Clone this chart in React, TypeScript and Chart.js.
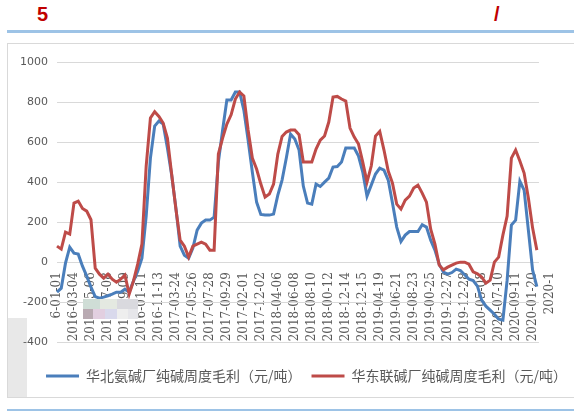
import React, { useEffect, useRef } from 'react';
import { Chart, registerables } from 'chart.js';

Chart.register(...registerables);

// Tick labels shown on the category axis (one every 4 data points)
const tickLabels = [
  '6-01-01', '2016-03-04', '2016-05-06', '2016-07-08', '2016-09-09', '2016-01-11',
  '2016-11-13', '2017-03-24', '2017-05-26', '2017-07-28', '2017-09-29', '2017-02-01',
  '2017-12-02', '2018-04-06', '2018-06-08', '2018-08-10', '2018-00-12', '2018-12-14',
  '2018-12-15', '2019-04-19', '2019-06-21', '2019-08-23', '2019-00-25', '2019-12-27',
  '2019-12-28', '2020-05-08', '2020-07-10', '2020-09-11', '2020-01-20', '2020-1',
];

const seriesNames = ['华北氨碱厂纯碱周度毛利（元/吨）', '华东联碱厂纯碱周度毛利（元/吨）'];

// 华北氨碱厂纯碱周度毛利（元/吨）
const northAmmoniaProfit = [
  -150, -130, -5, 75, 45, 40, -20, -70, -125, -172,
  -180, -175, -168, -160, -150, -150, -135, -150, -95, -45,
  20, 230, 520, 680, 705, 690, 570, 435, 270, 80,
  35, 20, 70, 160, 195, 210, 210, 225, 500, 660,
  810, 810, 850, 850, 760, 610, 450, 300, 238, 235,
  235, 240, 335, 410, 520, 640, 615, 560, 380, 295,
  290, 390, 378, 400, 420, 475, 478, 500, 570, 570,
  570, 530, 450, 330, 385, 440, 470, 460, 410, 295,
  175, 103, 135, 153, 153, 153, 187, 175, 110, 60,
  -10, -50, -60, -52, -35, -42, -63, -85, -92, -120,
  -190, -220, -240, -260, -285, -290, -90, 185, 210, 405,
  360, 160, -40, -122, null, null, null,
];

// 华东联碱厂纯碱周度毛利（元/吨）
const eastJointProfit = [
  80, 65, 150, 140, 295, 305, 268, 255, 212, -30,
  -60, -80, -60, -85, -100, -85, -65, -160, -95, -10,
  90, 480, 720, 752, 728, 695, 620, 440, 265, 110,
  80, 25, 80, 90, 100, 90, 60, 60, 540, 620,
  690, 736, 815, 850, 830, 660, 520, 465, 390, 325,
  340, 390, 540, 628, 650, 660, 660, 637, 500, 500,
  500, 565, 610, 630, 700, 825, 828, 815, 805, 670,
  625, 590, 500, 400, 480, 630, 653, 560, 455, 395,
  290, 265, 310, 330, 370, 385, 345, 300, 165, 90,
  -15, -38, -25, -15, -5, 0, 0, -10, -48, -58,
  -75, -105, -90, 0, 25, 135, 230, 520, 560, 505,
  445, 320, 170, 60, null, null, null,
];

const yTicks = { min: -400, max: 1000, step: 200 };
const gridEndIndex = 113.5;

const categories = northAmmoniaProfit.map((_, i) => (i % 4 === 0 ? tickLabels[i / 4] : ''));

const partialGrid = {
  id: 'partialGrid',
  beforeDatasetsDraw(chart: any) {
    const { ctx, chartArea, scales } = chart;
    const xEnd = scales.x.getPixelForValue(gridEndIndex);
    ctx.save();
    ctx.strokeStyle = '#d9d9d9';
    ctx.lineWidth = 1;
    scales.y.ticks.forEach((t: any) => {
      const py = Math.round(scales.y.getPixelForValue(t.value)) + 0.5;
      ctx.beginPath();
      ctx.moveTo(chartArea.left, py);
      ctx.lineTo(xEnd, py);
      ctx.stroke();
    });
    ctx.restore();
  },
};

const legendShift = {
  id: 'legendShift',
  afterLayout(chart: any) {
    if (chart.legend) {
      chart.legend.left += 7;
      chart.legend.right += 7;
    }
  },
};

export default function App() {
  const ref = useRef<HTMLCanvasElement>(null);

  useEffect(() => {
    if (!ref.current) return;
    const chart = new Chart(ref.current, {
      type: 'line',
      data: {
        labels: categories,
        datasets: [
          {
            label: seriesNames[0],
            data: northAmmoniaProfit,
            borderColor: '#4a7ebb',
            backgroundColor: '#4a7ebb',
            borderWidth: 3,
            pointRadius: 0,
            pointBorderWidth: 3,
            tension: 0,
            order: 1,
          },
          {
            label: seriesNames[1],
            data: eastJointProfit,
            borderColor: '#be4b48',
            backgroundColor: '#be4b48',
            borderWidth: 3,
            pointRadius: 0,
            pointBorderWidth: 3,
            tension: 0,
            order: 0,
          },
        ],
      },
      options: {
        animation: false,
        responsive: true,
        maintainAspectRatio: false,
        layout: { padding: { left: 0, right: 4, top: 18, bottom: 5 } },
        plugins: {
          tooltip: { enabled: false },
          legend: {
            position: 'bottom',
            align: 'end',
            title: { display: true, text: ' ', padding: 0, font: { size: 14 } },
            labels: {
              usePointStyle: true,
              pointStyle: 'line',
              pointStyleWidth: 33,
              padding: 10,
              color: '#595959',
              font: { family: "'Noto Sans CJK SC', sans-serif", size: 14 },
              sort: (a: any, b: any) => a.datasetIndex - b.datasetIndex,
            },
          },
        },
        scales: {
          x: {
            type: 'category',
            position: { y: 0 } as any,
            grid: { display: false, drawTicks: false },
            border: { display: false },
            ticks: {
              autoSkip: false,
              minRotation: 90,
              maxRotation: 90,
              padding: 10,
              color: '#595959',
              font: { family: "'DejaVu Serif', serif", size: 12 },
            },
          },
          y: {
            min: yTicks.min,
            max: yTicks.max,
            grid: { display: false, drawTicks: false },
            border: { display: false },
            afterFit: (scale: any) => {
              scale.width = 49;
            },
            ticks: {
              stepSize: yTicks.step,
              padding: 9,
              color: '#595959',
              font: { family: "'DejaVu Sans', sans-serif", size: 11 },
              callback: (v: any) => String(v),
            },
          },
        },
      },
      plugins: [partialGrid, legendShift],
    });
    return () => chart.destroy();
  }, []);

  const mosaic = [
    { l: 83, t: 299, w: 17, h: 10, c: '#cfddd6' },
    { l: 100, t: 299, w: 17, h: 10, c: '#e4e9e1' },
    { l: 117, t: 299, w: 21, h: 10, c: '#d9d9de' },
    { l: 83, t: 309, w: 10, h: 10, c: '#b9aab2' },
    { l: 93, t: 309, w: 12, h: 10, c: '#e2cfe0' },
    { l: 105, t: 309, w: 12, h: 10, c: '#d9d9ec' },
    { l: 117, t: 309, w: 11, h: 10, c: '#eeeeee' },
    { l: 128, t: 309, w: 10, h: 10, c: '#e6e6ea' },
  ];

  return (
    <div
      style={{
        position: 'fixed',
        left: 0,
        top: 0,
        width: 574,
        height: 412,
        background: '#ffffff',
        overflow: 'hidden',
        fontFamily: "'Liberation Sans', Arial, sans-serif",
      }}
    >
      <div style={{ position: 'absolute', left: 37, top: 3, fontSize: 20, fontWeight: 'bold', color: '#c00000' }}>5</div>
      <div style={{ position: 'absolute', left: 494, top: 3, fontSize: 20, fontWeight: 'bold', color: '#c00000' }}>/</div>
      <div style={{ position: 'absolute', left: 7, top: 30, width: 567, height: 3, background: '#9dc3e6' }} />
      <div
        style={{
          position: 'absolute',
          left: 7,
          top: 43,
          width: 580,
          height: 355,
          border: '1px solid #d9d9d9',
          boxSizing: 'border-box',
        }}
      />
      <div style={{ position: 'absolute', left: 8, top: 318, width: 19, height: 79, background: '#e8e8e8' }} />
      <div style={{ position: 'absolute', left: 8, top: 44, width: 566, height: 354 }}>
        <canvas ref={ref} />
      </div>
      {mosaic.map((m, k) => (
        <div key={k} style={{ position: 'absolute', left: m.l, top: m.t, width: m.w, height: m.h, background: m.c }} />
      ))}
      <div style={{ position: 'absolute', left: 7, top: 409, width: 567, height: 2, background: '#9dc3e6' }} />
    </div>
  );
}
